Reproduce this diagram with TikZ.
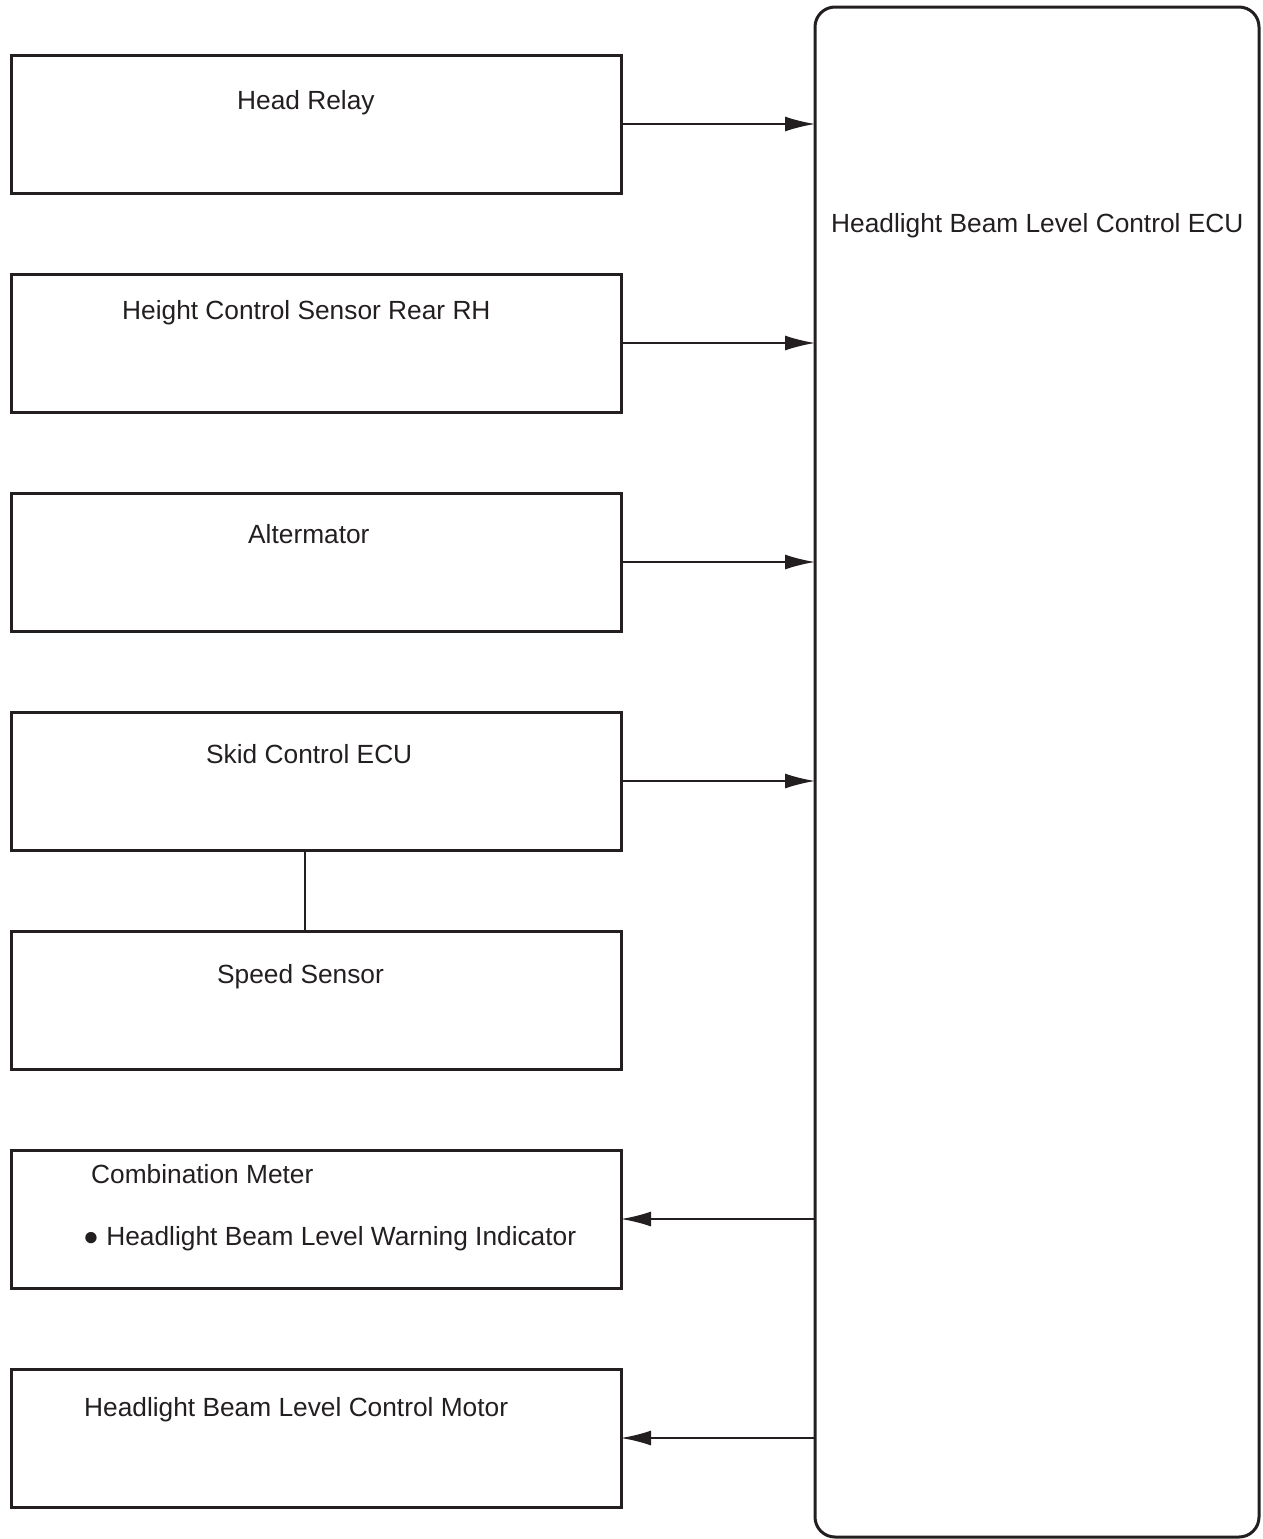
\documentclass[tikz,border=0pt]{standalone}
\usepackage{fontspec}
\setmainfont{Liberation Sans}
\usetikzlibrary{positioning,arrows.meta}
\definecolor{ink}{RGB}{35,31,32}
\tikzset{
  blk/.style={draw=ink,line width=3pt,minimum width=610pt,minimum height=138pt,outer sep=0pt,inner sep=0pt},
  ecubox/.style={draw=ink,line width=3pt,rounded corners=20pt,minimum width=444pt,minimum height=1530pt,outer sep=0pt},
  txt/.style={anchor=base west,inner sep=0pt,text=ink,font=\fontsize{26.3}{31}\selectfont},
  sig/.style={draw=ink,line width=1.8pt,-{Latex[length=30pt,width=15pt]}}
}

\begin{document}
\begin{tikzpicture}[x=1pt,y=-1pt,node distance=81pt]
  \useasboundingbox (0,0) rectangle (1263,1539);
  % ECU on the right
  \node[ecubox] (ecu) at (1037,772) {};
  \node[txt] (ecutxt) at (831,232) {Headlight Beam Level Control ECU};
  % left column
  \node[blk,anchor=north west] (relay) at (11,55) {};
  \node[blk] (hsensor) [below=of relay] {};
  \node[blk] (alt) [below=of hsensor] {};
  \node[blk] (skid) [below=of alt] {};
  \node[blk] (speed) [below=of skid] {};
  \node[blk] (meter) [below=of speed] {};
  \node[blk] (motor) [below=of meter] {};
  \node[txt] (relaytxt) at (237,109) {Head Relay};
  \node[txt] (hsensortxt) at (122,319) {Height Control Sensor Rear RH};
  \node[txt] (alttxt) at (248,543) {Altermator};
  \node[txt] (skidtxt) at (206,763) {Skid Control ECU};
  \node[txt] (speedtxt) at (217,983) {Speed Sensor};
  \node[txt] (metertxt) at (91,1183) {Combination Meter};
  \node[txt] (indtxt) at (83,1245) {● Headlight Beam Level Warning Indicator};
  \node[txt] (motortxt) at (84,1416) {Headlight Beam Level Control Motor};
  % signals
  \foreach \n in {relay,hsensor,alt,skid}
    \draw[sig] (\n.east) -- (\n.east -| ecu.west);
  \foreach \n in {meter,motor}
    \draw[sig] (\n.east -| ecu.west) -- (\n.east);
  \draw[ink,line width=2pt] ([xshift=-11pt]skid.south) -- ([xshift=-11pt]speed.north);
\end{tikzpicture}
\end{document}
